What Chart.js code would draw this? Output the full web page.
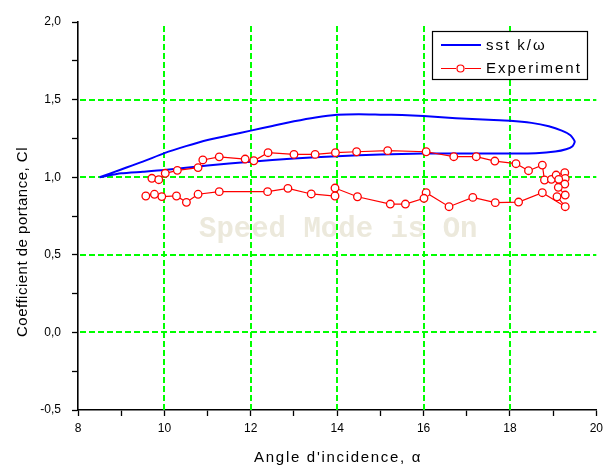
<!DOCTYPE html>
<html><head><meta charset="utf-8">
<script src="https://cdn.jsdelivr.net/npm/chart.js@4.4.1/dist/chart.umd.min.js"></script>
<style>html,body{margin:0;padding:0;background:#fff}#wrap{width:608px;height:468px}</style>
</head><body><div id="wrap"><canvas id="c" width="608" height="468"></canvas></div>
<script>
// ---- text ----
const simLabel = 'sst k/\u03c9';
const expLabel = 'Experiment';
const xTitle = "Angle d'incidence, \u03b1";
const yTitle = 'Coefficient de portance, Cl';
const watermark = 'Speed Mode is On';

// ---- ticks ----
const xMajor = [8, 10, 12, 14, 16, 18, 20];
const xMajorText = ['8', '10', '12', '14', '16', '18', '20'];
const yMajor = [-0.5, 0, 0.5, 1, 1.5, 2];
const yMajorText = ['-0,5', '0,0', '0,5', '1,0', '1,5', '2,0'];

// ---- sst k/omega (closed contour) ----
const simX = [8.5, 9.0, 9.5, 10.0, 10.5, 11.0, 11.5, 12.0, 12.5, 13.0, 13.5, 14.0, 14.5, 15.0, 15.5, 16.0, 16.5, 17.0, 17.5, 18.0, 18.5, 18.9, 19.2, 19.4, 19.5, 19.45, 19.3, 19.05, 18.6, 18.0, 17.0, 16.0, 15.0, 14.0, 13.0, 12.0, 11.0, 10.0, 9.5, 9.0, 8.5];
const simY = [1.00, 1.05, 1.10, 1.155, 1.20, 1.24, 1.27, 1.30, 1.33, 1.36, 1.385, 1.402, 1.406, 1.403, 1.40, 1.394, 1.385, 1.376, 1.37, 1.364, 1.35, 1.328, 1.30, 1.27, 1.23, 1.20, 1.18, 1.165, 1.155, 1.153, 1.152, 1.152, 1.146, 1.135, 1.12, 1.10, 1.075, 1.046, 1.035, 1.025, 1.00];

// ---- experiment ----
const expX = [9.71, 9.87, 10.02, 10.30, 10.78, 10.89, 11.27, 11.87, 12.07, 12.40, 13.00, 13.49, 13.96, 14.45, 15.17, 16.06, 16.70, 17.22, 17.65, 18.14, 18.43, 18.75, 18.80, 18.96, 19.07, 19.27, 19.28, 19.13, 19.27, 19.12, 19.28, 19.09, 19.28, 18.75, 18.20, 17.66, 17.14, 16.59, 16.06, 16.01, 15.58, 15.23, 14.47, 13.95, 13.95, 13.40, 12.86, 12.39, 11.27, 10.78, 10.51, 10.28, 9.94, 9.77, 9.57];
const expY = [0.993, 0.984, 1.025, 1.044, 1.062, 1.111, 1.131, 1.117, 1.106, 1.158, 1.147, 1.147, 1.158, 1.164, 1.171, 1.164, 1.132, 1.132, 1.104, 1.087, 1.042, 1.078, 0.982, 0.986, 1.014, 1.029, 0.992, 0.986, 0.956, 0.935, 0.885, 0.874, 0.810, 0.900, 0.840, 0.836, 0.870, 0.810, 0.900, 0.864, 0.827, 0.827, 0.874, 0.930, 0.879, 0.892, 0.928, 0.907, 0.907, 0.890, 0.838, 0.879, 0.875, 0.890, 0.879];

const toPts = (xs, ys) => xs.map((x, i) => ({x: x, y: ys[i]}));
const FONT = '"Liberation Sans", Arial, sans-serif';
const GREEN = '#00ff00';
const near = (a, b) => Math.abs(a - b) < 1e-6;
const CLEAR = 'rgba(0,0,0,0)';

const decor = {
  id: 'decor',
  beforeDraw(chart) {
    const ctx = chart.ctx;
    ctx.save();
    ctx.font = 'bold 29px "Liberation Mono", "Courier New", monospace';
    ctx.fillStyle = '#ece9dc';
    ctx.textAlign = 'left';
    ctx.textBaseline = 'alphabetic';
    ctx.fillText(watermark, 199, 237);
    ctx.restore();
  },
  beforeDatasetsDraw(chart) {
    // dashed green grid at the interior major ticks
    const ctx = chart.ctx;
    const ca = chart.chartArea;
    const xs = chart.scales.x, ys = chart.scales.y;
    ctx.save();
    ctx.strokeStyle = GREEN;
    ctx.lineWidth = 2;
    ctx.setLineDash([6, 3]);
    xMajor.slice(1, -1).forEach(v => {
      const px = Math.round(xs.getPixelForValue(v));
      ctx.beginPath(); ctx.moveTo(px, ca.top + 4); ctx.lineTo(px, ca.bottom); ctx.stroke();
    });
    yMajor.slice(1, -1).forEach(v => {
      const py = Math.round(ys.getPixelForValue(v));
      ctx.beginPath(); ctx.moveTo(ca.left + 2, py); ctx.lineTo(ca.right, py); ctx.stroke();
    });
    ctx.restore();
  },
  afterDraw(chart) {
    const ctx = chart.ctx;
    const ca = chart.chartArea;
    ctx.save();
    ctx.fillStyle = '#000';
    // x title
    ctx.font = '15px ' + FONT;
    ctx.letterSpacing = '1.7px';
    ctx.textAlign = 'center';
    ctx.textBaseline = 'middle';
    ctx.fillText(xTitle, (ca.left + ca.right) / 2 + 1, 458);
    // y title
    ctx.save();
    ctx.letterSpacing = '0.5px';
    ctx.translate(23, 242);
    ctx.rotate(-Math.PI / 2);
    ctx.fillText(yTitle, 0, 0);
    ctx.restore();
    // legend
    const bx = 432.5, by = 31.5, bw = 155, bh = 48;
    ctx.fillStyle = '#fff';
    ctx.fillRect(bx, by, bw, bh);
    ctx.strokeStyle = '#000';
    ctx.lineWidth = 1.2;
    ctx.strokeRect(bx, by, bw, bh);
    ctx.strokeStyle = '#0000ff';
    ctx.lineWidth = 1.8;
    ctx.beginPath(); ctx.moveTo(441, 45); ctx.lineTo(481, 45); ctx.stroke();
    ctx.strokeStyle = '#ff0000';
    ctx.lineWidth = 1.2;
    ctx.beginPath(); ctx.moveTo(441, 68.5); ctx.lineTo(456, 68.5); ctx.moveTo(465, 68.5); ctx.lineTo(481, 68.5); ctx.stroke();
    ctx.beginPath(); ctx.arc(460.5, 68.5, 3.5, 0, Math.PI * 2); ctx.fillStyle = '#fff'; ctx.fill(); ctx.stroke();
    ctx.fillStyle = '#000';
    ctx.font = '15px ' + FONT;
    ctx.letterSpacing = '2px';
    ctx.textAlign = 'left';
    ctx.fillText(simLabel, 486, 46);
    ctx.fillText(expLabel, 486, 69);
    ctx.restore();
  }
};

new Chart(document.getElementById('c'), {
  type: 'scatter',
  data: {
    datasets: [
      {
        label: expLabel,
        data: toPts(expX, expY),
        showLine: true,
        borderColor: '#ff0000',
        borderWidth: 1.2,
        pointRadius: 3.8,
        pointBorderWidth: 1.3,
        pointBorderColor: '#ff0000',
        pointBackgroundColor: '#ffffff',
        order: 0
      },
      {
        label: simLabel,
        data: toPts(simX, simY),
        showLine: true,
        borderColor: '#0000ff',
        borderWidth: 2,
        pointRadius: 0,
        tension: 0.2,
        order: 1
      }
    ]
  },
  options: {
    responsive: false,
    animation: false,
    devicePixelRatio: 1,
    layout: {padding: {top: 22, right: 7, left: 0, bottom: 0}},
    plugins: {legend: {display: false}, tooltip: {enabled: false}},
    scales: {
      x: {
        type: 'linear', min: 8, max: 20,
        afterFit: s => { s.height = 58; },
        ticks: {
          stepSize: 1, autoSkip: false, maxRotation: 0, padding: 5,
          color: '#000', font: {family: FONT, size: 12},
          callback: v => { const i = xMajor.findIndex(m => near(m, v)); return i >= 0 ? xMajorText[i] : ''; }
        },
        grid: {color: CLEAR, lineWidth: 1, drawOnChartArea: false, drawTicks: true, tickLength: 6, tickColor: '#000', tickWidth: 1.3},
        border: {display: true, color: '#000', width: 1.6}
      },
      y: {
        type: 'linear', min: -0.5, max: 2,
        afterFit: s => { s.width = 78; },
        ticks: {
          stepSize: 0.25, autoSkip: false, padding: 11,
          color: '#000', font: {family: FONT, size: 12},
          callback: v => { const i = yMajor.findIndex(m => near(m, v)); return i >= 0 ? yMajorText[i] : ''; }
        },
        grid: {color: CLEAR, lineWidth: 1, drawOnChartArea: false, drawTicks: true, tickLength: 6, tickColor: '#000', tickWidth: 1.3},
        border: {display: true, color: '#000', width: 1.6}
      }
    }
  },
  plugins: [decor]
});
</script>
</body></html>
